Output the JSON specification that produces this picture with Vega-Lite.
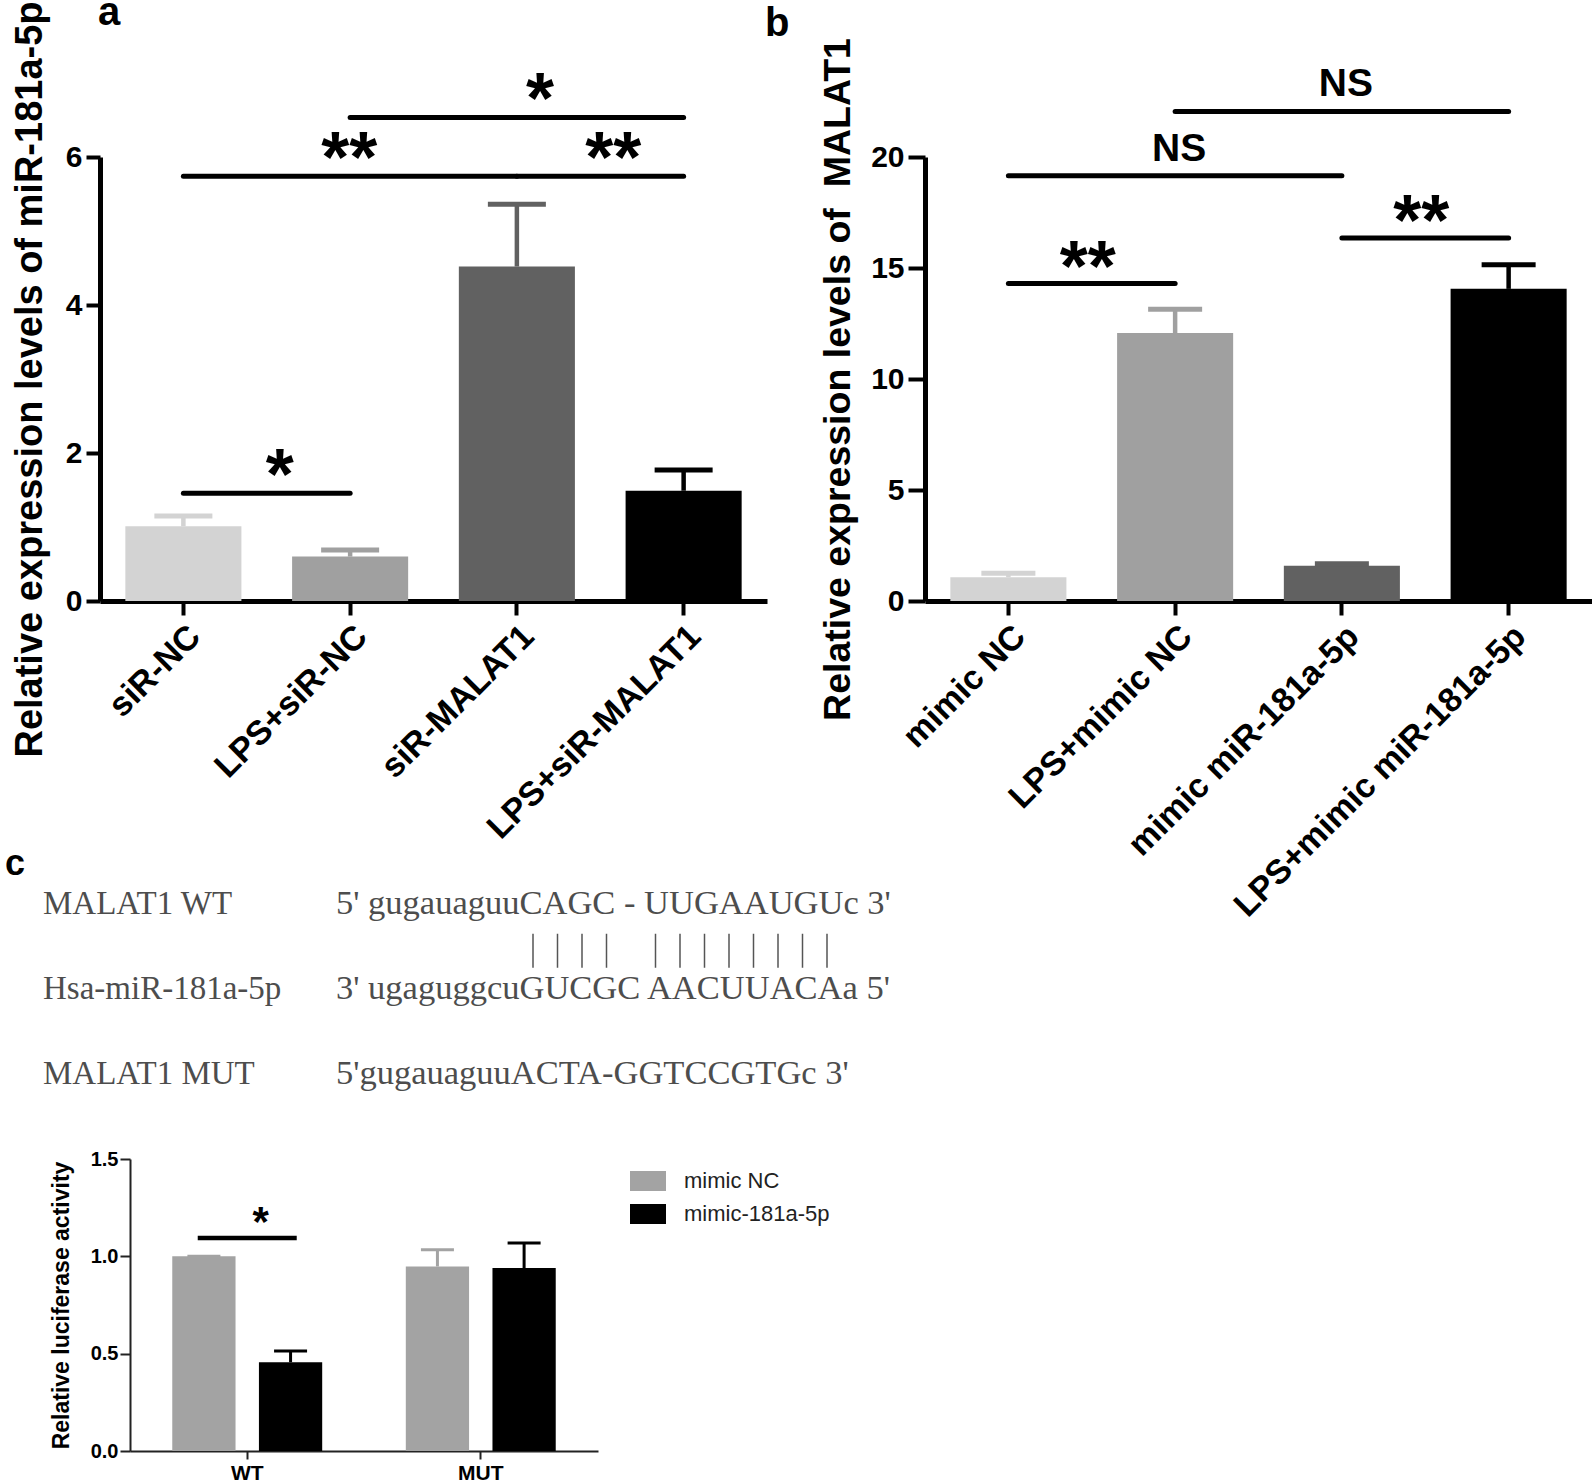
{
  "$schema": "https://vega.github.io/schema/vega-lite/v6.json",
  "padding": {"left": 5, "top": -7, "right": 0, "bottom": 0},
  "background": "white",
  "config": {
    "view": {"stroke": null},
    "font": "Liberation Sans",
    "axis": {"grid": false, "domainColor": "black", "domainWidth": 5, "tickColor": "black", "tickWidth": 4, "tickSize": 14,
      "labelFont": "Liberation Sans", "labelFontWeight": "bold", "labelFontSize": 30, "labelColor": "black", "labelPadding": 4,
      "labelLimit": 0, "labelOverlap": false, "titleLimit": 2000,
      "titleFont": "Liberation Sans", "titleFontWeight": "bold", "titleFontSize": 38, "titleColor": "black"},
    "title": {"font": "Liberation Sans", "fontWeight": "bold", "color": "black", "anchor": "start", "frame": "group"}
  },
  "datasets": {
    "a": [
      {"group": "siR-NC", "value": 1.01, "err": 1.15},
      {"group": "LPS+siR-NC", "value": 0.6, "err": 0.69},
      {"group": "siR-MALAT1", "value": 4.52, "err": 5.36},
      {"group": "LPS+siR-MALAT1", "value": 1.49, "err": 1.77}
    ],
    "a_sig": [
      {"from": "siR-NC", "to": "LPS+siR-NC", "y": 1.455, "label": "*", "span": 1},
      {"from": "siR-NC", "to": "siR-MALAT1", "y": 5.74, "label": "**", "span": 2},
      {"from": "siR-MALAT1", "to": "LPS+siR-MALAT1", "y": 5.74, "label": "**", "span": 1},
      {"from": "LPS+siR-NC", "to": "LPS+siR-MALAT1", "y": 6.535, "label": "*", "span": 2}
    ],
    "b": [
      {"group": "mimic NC", "value": 1.07, "err": 1.25},
      {"group": "LPS+mimic NC", "value": 12.07, "err": 13.14},
      {"group": "mimic miR-181a-5p", "value": 1.59, "err": 1.68},
      {"group": "LPS+mimic miR-181a-5p", "value": 14.06, "err": 15.15}
    ],
    "b_sig": [
      {"from": "mimic NC", "to": "LPS+mimic NC", "y": 14.3, "label": "**", "span": 1},
      {"from": "mimic NC", "to": "mimic miR-181a-5p", "y": 19.16, "label": "NS", "span": 2},
      {"from": "mimic miR-181a-5p", "to": "LPS+mimic miR-181a-5p", "y": 16.35, "label": "**", "span": 1},
      {"from": "LPS+mimic NC", "to": "LPS+mimic miR-181a-5p", "y": 22.05, "label": "NS", "span": 2}
    ],
    "seq": [
      {"line": 1, "col": "name", "text": "MALAT1 WT"},
      {"line": 1, "col": "seq", "text": "5' gugauaguuCAGC - UUGAAUGUc 3'"},
      {"line": 2, "col": "name", "text": "Hsa-miR-181a-5p"},
      {"line": 2, "col": "seq", "text": "3' ugaguggcuGUCGC AACUUACAa 5'"},
      {"line": 3, "col": "name", "text": "MALAT1 MUT"},
      {"line": 3, "col": "seq", "text": "5'gugauaguuACTA-GGTCCGTGc 3'"}
    ],
    "panel_c": [
      {"line": 1, "col": "name", "text": "c"}
    ],
    "pairs": [
      {"pos": 1, "line": 1.55}, {"pos": 2, "line": 1.55}, {"pos": 3, "line": 1.55}, {"pos": 4, "line": 1.55},
      {"pos": 6, "line": 1.55}, {"pos": 7, "line": 1.55}, {"pos": 8, "line": 1.55}, {"pos": 9, "line": 1.55},
      {"pos": 10, "line": 1.55}, {"pos": 11, "line": 1.55}, {"pos": 12, "line": 1.55}, {"pos": 13, "line": 1.55}
    ],
    "luc": [
      {"construct": "WT", "treatment": "mimic NC", "value": 1.0, "err": 1.0},
      {"construct": "WT", "treatment": "mimic-181a-5p", "value": 0.456, "err": 0.514},
      {"construct": "MUT", "treatment": "mimic NC", "value": 0.948, "err": 1.034},
      {"construct": "MUT", "treatment": "mimic-181a-5p", "value": 0.94, "err": 1.068}
    ],
    "luc_sig": [
      {"construct": "WT", "y": 1.094, "label": "*"}
    ]
  },
  "spacing": 158,
  "bounds": "flush",
  "resolve": {"scale": {"color": "independent", "x": "independent", "y": "independent"}},
  "hconcat": [
    {
      "width": 667, "height": 444,
      "title": {"text": "a", "fontSize": 40, "offset": -64.5, "dx": -2, "baseline": "alphabetic"},
      "resolve": {"scale": {"x": "independent", "y": "independent", "color": "independent"}, "axis": {"x": "independent", "y": "independent"}, "legend": {"color": "independent"}},
      "layer": [
        {
          "layer": [
            {
              "data": {"name": "a"},
              "mark": {"type": "bar"},
              "encoding": {
                "x": {"field": "group", "type": "nominal",
                  "scale": {"domain": ["siR-NC", "LPS+siR-NC", "siR-MALAT1", "LPS+siR-MALAT1"], "paddingInner": 0.304, "paddingOuter": 0.152},
                  "axis": {"title": null, "labelAngle": -45, "labelFontSize": 34}},
                "y": {"field": "value", "type": "quantitative", "scale": {"domain": [0, 6], "nice": false},
                  "axis": {"values": [0, 2, 4, 6], "format": "d", "title": "Relative expression levels of miR-181a-5p", "titlePadding": 16}},
                "color": {"field": "group", "type": "nominal",
                  "scale": {"domain": ["siR-NC", "LPS+siR-NC", "siR-MALAT1", "LPS+siR-MALAT1"], "range": ["#d3d3d3", "#a0a0a0", "#616161", "#000000"]},
                  "legend": null}
              }
            },
            {
              "data": {"name": "a"},
              "mark": {"type": "rule", "strokeWidth": 4.5},
              "encoding": {
                "x": {"field": "group", "type": "nominal"},
                "y": {"field": "value", "type": "quantitative"},
                "y2": {"field": "err"},
                "color": {"field": "group", "type": "nominal", "legend": null}
              }
            },
            {
              "data": {"name": "a"},
              "mark": {"type": "tick", "size": 58, "thickness": 5, "opacity": 1},
              "encoding": {
                "x": {"field": "group", "type": "nominal"},
                "y": {"field": "err", "type": "quantitative"},
                "color": {"field": "group", "type": "nominal", "legend": null}
              }
            },
            {
              "data": {"name": "a_sig"},
              "mark": {"type": "rule", "strokeWidth": 5, "strokeCap": "round", "color": "black"},
              "encoding": {
                "x": {"field": "from", "type": "nominal", "bandPosition": 0.5},
                "x2": {"field": "to"},
                "y": {"field": "y", "type": "quantitative"}
              }
            },
            {
              "data": {"name": "a_sig"},
              "transform": [{"filter": "datum.span == 1"}],
              "mark": {"type": "text", "fontSize": 72, "fontWeight": "bold", "baseline": "alphabetic", "dy": 6, "dx": 13, "color": "black"},
              "encoding": {
                "x": {"field": "from", "type": "nominal", "bandPosition": 1.218},
                "y": {"field": "y", "type": "quantitative"},
                "text": {"field": "label"}
              }
            },
            {
              "data": {"name": "a_sig"},
              "transform": [{"filter": "datum.span == 2 && datum.label == '**'"}],
              "mark": {"type": "text", "fontSize": 72, "fontWeight": "bold", "baseline": "alphabetic", "dy": 6, "dx": -1, "color": "black"},
              "encoding": {
                "x": {"field": "from", "type": "nominal", "bandPosition": 1.937},
                "y": {"field": "y", "type": "quantitative"},
                "text": {"field": "label"}
              }
            },
            {
              "data": {"name": "a_sig"},
              "transform": [{"filter": "datum.span == 2 && datum.label == '*'"}],
              "mark": {"type": "text", "fontSize": 72, "fontWeight": "bold", "baseline": "alphabetic", "dy": 6, "dx": 23, "color": "black"},
              "encoding": {
                "x": {"field": "from", "type": "nominal", "bandPosition": 1.937},
                "y": {"field": "y", "type": "quantitative"},
                "text": {"field": "label"}
              }
            }
          ]
        },
        {
          "resolve": {"scale": {"x": "independent"}},
          "layer": [
            {
              "data": {"name": "seq"},
              "transform": [{"filter": "datum.col == 'name'"}],
              "mark": {"type": "text", "font": "Liberation Serif", "fontSize": 33, "align": "left", "baseline": "middle", "color": "#4d4d4d"},
              "encoding": {
                "x": {"field": "col", "type": "nominal", "scale": {"type": "point", "domain": ["name", "seq"], "range": [-57, 236], "padding": 0}, "axis": null},
                "y": {"field": "line", "type": "quantitative", "scale": {"domain": [1, 3], "range": [747, 917]}, "axis": null},
                "text": {"field": "text"}
              }
            },
            {
              "data": {"name": "seq"},
              "transform": [{"filter": "datum.col == 'seq'"}],
              "mark": {"type": "text", "font": "Liberation Serif", "fontSize": 34.5, "align": "left", "baseline": "middle", "color": "#4d4d4d"},
              "encoding": {
                "x": {"field": "col", "type": "nominal", "scale": {"type": "point", "domain": ["name", "seq"], "range": [-57, 236], "padding": 0}, "axis": null},
                "y": {"field": "line", "type": "quantitative", "axis": null},
                "text": {"field": "text"}
              }
            },
            {
              "data": {"name": "panel_c"},
              "mark": {"type": "text", "fontSize": 36, "fontWeight": "bold", "align": "left", "baseline": "middle", "color": "black", "dx": -38, "dy": -40},
              "encoding": {
                "x": {"field": "col", "type": "nominal", "scale": {"type": "point", "domain": ["name", "seq"], "range": [-57, 236], "padding": 0}, "axis": null},
                "y": {"field": "line", "type": "quantitative", "axis": null},
                "text": {"field": "text"}
              }
            },
            {
              "data": {"name": "pairs"},
              "mark": {"type": "point", "shape": "M0,-1L0,1", "size": 1156, "filled": false, "color": "#555555", "strokeWidth": 1.5, "opacity": 1},
              "encoding": {
                "x": {"field": "pos", "type": "quantitative", "scale": {"domain": [1, 13], "range": [433, 727]}, "axis": null},
                "y": {"field": "line", "type": "quantitative", "axis": null}
              }
            }
          ]
        },
        {
          "layer": [
            {
              "data": {"name": "luc"},
              "mark": {"type": "bar"},
              "encoding": {
                "x": {"field": "construct", "type": "nominal",
                  "scale": {"domain": ["WT", "MUT"], "range": [30, 498], "paddingInner": 0.358, "paddingOuter": 0.181},
                  "axis": {"title": null, "orient": "bottom", "offset": 850, "labelAngle": 0, "labelFontSize": 21, "domainWidth": 2, "tickWidth": 2, "tickSize": 8, "labelPadding": 3, "domainColor": "#222222", "tickColor": "#222222"}},
                "xOffset": {"field": "treatment", "type": "nominal", "scale": {"domain": ["mimic NC", "mimic-181a-5p"], "paddingInner": 0.27, "paddingOuter": 0}},
                "y": {"field": "value", "type": "quantitative", "scale": {"domain": [0, 1.5], "nice": false, "range": [1294, 1002]},
                  "axis": {"orient": "left", "offset": -30, "values": [0, 0.5, 1, 1.5], "format": ".1f", "title": "Relative luciferase activity", "titleFontSize": 23, "titlePadding": 17, "labelFontSize": 20, "domainWidth": 2, "tickWidth": 2, "tickSize": 10, "labelPadding": 2, "domainColor": "#222222", "tickColor": "#222222"}},
                "color": {"field": "treatment", "type": "nominal",
                  "scale": {"domain": ["mimic NC", "mimic-181a-5p"], "range": ["#a3a3a3", "#000000"]},
                  "legend": {"title": null, "orient": "none", "legendX": 537, "legendY": 1013, "symbolType": "M-1.8,-1L1.8,-1L1.8,1L-1.8,1Z", "symbolSize": 400, "symbolStrokeWidth": 0, "symbolOpacity": 1, "labelFontSize": 22, "labelFont": "Liberation Sans", "labelFontWeight": "normal", "labelColor": "#222222", "labelOffset": 25, "rowPadding": 11, "labelLimit": 400, "padding": 0}}
              }
            },
            {
              "data": {"name": "luc"},
              "mark": {"type": "rule", "strokeWidth": 3},
              "encoding": {
                "x": {"field": "construct", "type": "nominal"},
                "xOffset": {"field": "treatment", "type": "nominal"},
                "y": {"field": "value", "type": "quantitative"},
                "y2": {"field": "err"},
                "color": {"field": "treatment", "type": "nominal", "legend": null}
              }
            },
            {
              "data": {"name": "luc"},
              "mark": {"type": "tick", "size": 33, "thickness": 3, "opacity": 1},
              "encoding": {
                "x": {"field": "construct", "type": "nominal"},
                "xOffset": {"field": "treatment", "type": "nominal"},
                "y": {"field": "err", "type": "quantitative"},
                "color": {"field": "treatment", "type": "nominal", "legend": null}
              }
            },
            {
              "data": {"name": "luc_sig"},
              "mark": {"type": "tick", "size": 99, "thickness": 4.5, "color": "black", "opacity": 1},
              "encoding": {
                "x": {"field": "construct", "type": "nominal", "bandPosition": 0.55},
                "y": {"field": "y", "type": "quantitative"}
              }
            },
            {
              "data": {"name": "luc_sig"},
              "mark": {"type": "text", "fontSize": 42, "fontWeight": "bold", "baseline": "alphabetic", "dy": -2, "dx": 3, "color": "black"},
              "encoding": {
                "x": {"field": "construct", "type": "nominal", "bandPosition": 0.57},
                "y": {"field": "y", "type": "quantitative"},
                "text": {"field": "label"}
              }
            }
          ]
        }
      ]
    },
    {
      "width": 667, "height": 444,
      "title": {"text": "b", "fontSize": 40, "offset": -38.5, "dx": -160, "baseline": "alphabetic"},
      "layer": [
        {
          "data": {"name": "b"},
          "mark": {"type": "bar"},
          "encoding": {
            "x": {"field": "group", "type": "nominal",
              "scale": {"domain": ["mimic NC", "LPS+mimic NC", "mimic miR-181a-5p", "LPS+mimic miR-181a-5p"], "paddingInner": 0.304, "paddingOuter": 0.152},
              "axis": {"title": null, "labelAngle": -45, "labelFontSize": 34}},
            "y": {"field": "value", "type": "quantitative", "scale": {"domain": [0, 20], "nice": false},
              "axis": {"values": [0, 5, 10, 15, 20], "format": "d", "title": "Relative expression levels of\u00a0 MALAT1", "titleFontSize": 37.5, "titlePadding": 13, "tickSize": 17}},
            "color": {"field": "group", "type": "nominal",
              "scale": {"domain": ["mimic NC", "LPS+mimic NC", "mimic miR-181a-5p", "LPS+mimic miR-181a-5p"], "range": ["#d3d3d3", "#a0a0a0", "#616161", "#000000"]},
              "legend": null}
          }
        },
        {
          "data": {"name": "b"},
          "mark": {"type": "rule", "strokeWidth": 4.5},
          "encoding": {
            "x": {"field": "group", "type": "nominal"},
            "y": {"field": "value", "type": "quantitative"},
            "y2": {"field": "err"},
            "color": {"field": "group", "type": "nominal", "legend": null}
          }
        },
        {
          "data": {"name": "b"},
          "mark": {"type": "tick", "size": 54, "thickness": 5, "opacity": 1},
          "encoding": {
            "x": {"field": "group", "type": "nominal"},
            "y": {"field": "err", "type": "quantitative"},
            "color": {"field": "group", "type": "nominal", "legend": null}
          }
        },
        {
          "data": {"name": "b_sig"},
          "mark": {"type": "rule", "strokeWidth": 5, "strokeCap": "round", "color": "black"},
          "encoding": {
            "x": {"field": "from", "type": "nominal", "bandPosition": 0.5},
            "x2": {"field": "to"},
            "y": {"field": "y", "type": "quantitative"}
          }
        },
        {
          "data": {"name": "b_sig"},
          "transform": [{"filter": "datum.span == 1"}],
          "mark": {"type": "text", "fontSize": 72, "fontWeight": "bold", "baseline": "alphabetic", "dy": 7, "dx": -4, "color": "black"},
          "encoding": {
            "x": {"field": "from", "type": "nominal", "bandPosition": 1.218},
            "y": {"field": "y", "type": "quantitative"},
            "text": {"field": "label"}
          }
        },
        {
          "data": {"name": "b_sig"},
          "transform": [{"filter": "datum.span == 2"}],
          "mark": {"type": "text", "fontSize": 39, "fontWeight": "bold", "baseline": "alphabetic", "dy": -15, "dx": 4, "color": "black"},
          "encoding": {
            "x": {"field": "from", "type": "nominal", "bandPosition": 1.937},
            "y": {"field": "y", "type": "quantitative"},
            "text": {"field": "label"}
          }
        }
      ]
    }
  ]
}
